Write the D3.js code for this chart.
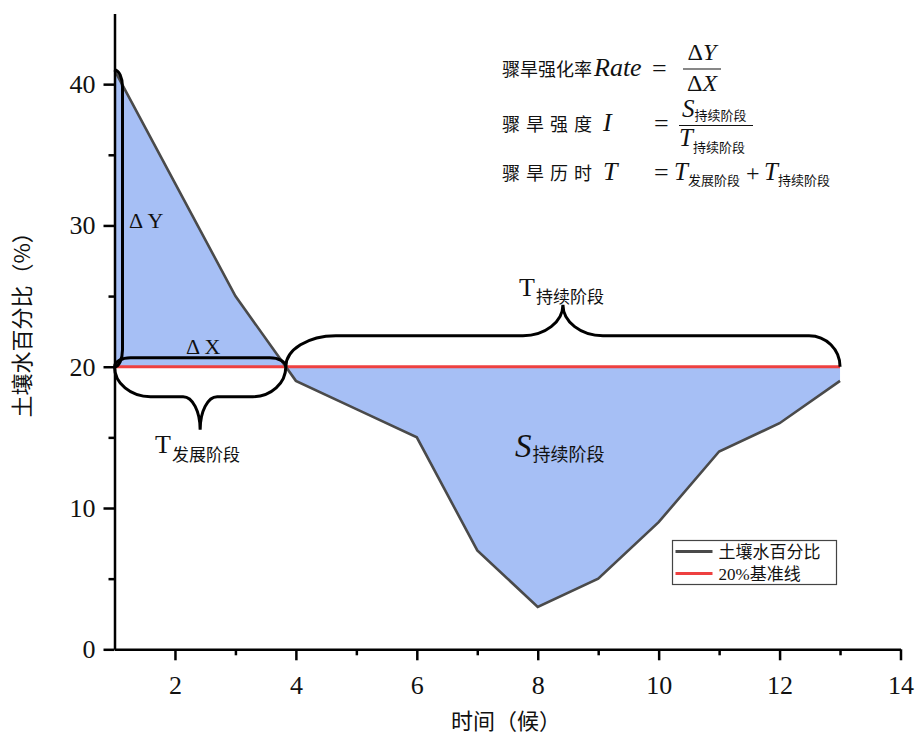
<!DOCTYPE html>
<html>
<head>
<meta charset="utf-8">
<script src="https://cdn.jsdelivr.net/npm/d3@7"></script>
<style>
  html, body { margin: 0; padding: 0; background: #fff; }
  svg text { font-family: "Liberation Serif", "Noto Sans CJK SC", serif; fill: #111; }
  .cjk { font-family: "Noto Sans CJK SC", sans-serif; }
</style>
</head>
<body>
<svg id="chart" width="917" height="737"></svg>
<script>
// 时间（候）与土壤水百分比
const pentads = [1, 2, 3, 4, 5, 6, 7, 8, 9, 10, 11, 12, 13];
const soilMoisture = [41, 33, 25, 19, 17, 15, 7, 3, 5, 9, 14, 16, 19];
const threshold = 20;
const xMajorTicks = [2, 4, 6, 8, 10, 12, 14];
const xMinorTicks = [3, 5, 7, 9, 11, 13];
const yMajorTicks = [0, 10, 20, 30, 40];
const yMinorTicks = [5, 15, 25, 35];
const legendLabels = ["土壤水百分比", "20%基准线"];

const lineColor = "#4a4a4a";
const refColor = "#ee4040";
const fillColor = "#a6bff5";

const svg = d3.select("#chart");
const x = d3.scaleLinear().domain([1, 14]).range([114.5, 900.5]);
const y = d3.scaleLinear().domain([0, 45]).range([649.3, 13.5]);

const pts = pentads.map((p, i) => ({ p, v: soilMoisture[i] }));

// 发展阶段结束：土壤水首次降到基准线的时刻（线性插值）
let cross = pentads[0];
for (let i = 1; i < pts.length; i++) {
  const a = pts[i - 1], b = pts[i];
  if (a.v >= threshold && b.v < threshold) {
    cross = a.p + (a.v - threshold) / (a.v - b.v) * (b.p - a.p);
    break;
  }
}
const firstP = pentads[0], lastP = pentads[pentads.length - 1];
const peakV = soilMoisture[0];

// 填充：土壤水曲线与基准线之间
svg.append("path")
  .datum(pts)
  .attr("fill", fillColor)
  .attr("d", d3.area().x(d => x(d.p)).y0(y(threshold)).y1(d => y(d.v)));

// 基准线
svg.append("line")
  .attr("x1", x(firstP)).attr("x2", x(lastP))
  .attr("y1", y(threshold)).attr("y2", y(threshold))
  .attr("stroke", refColor).attr("stroke-width", 3);

// 土壤水曲线
svg.append("path")
  .datum(pts)
  .attr("fill", "none")
  .attr("stroke", lineColor)
  .attr("stroke-width", 2.6)
  .attr("stroke-linejoin", "miter")
  .attr("d", d3.line().x(d => x(d.p)).y(d => y(d.v)));

// 坐标轴
const axisG = svg.append("g");
function styleAxis(g) {
  g.select(".domain").attr("stroke", "#000").attr("stroke-width", 2.5);
  g.selectAll(".tick line").attr("stroke", "#000").attr("stroke-width", 2.5);
  g.selectAll(".tick text").attr("font-family", "Liberation Serif").attr("font-size", 26).attr("fill", "#111");
}
const gx = axisG.append("g").attr("transform", `translate(0,${y(0)})`)
  .call(d3.axisBottom(x).tickValues(xMajorTicks).tickSize(11).tickPadding(15).tickSizeOuter(0));
styleAxis(gx);
gx.selectAll(".tick text").attr("dy", "0.72em");
const gxm = axisG.append("g").attr("transform", `translate(0,${y(0)})`)
  .call(d3.axisBottom(x).tickValues(xMinorTicks).tickSize(6).tickFormat("").tickSizeOuter(0));
styleAxis(gxm);
gxm.select(".domain").remove();

const gy = axisG.append("g").attr("transform", `translate(${x(1)},0)`)
  .call(d3.axisLeft(y).tickValues(yMajorTicks).tickSize(11).tickPadding(8).tickSizeOuter(0));
styleAxis(gy);
const gym = axisG.append("g").attr("transform", `translate(${x(1)},0)`)
  .call(d3.axisLeft(y).tickValues(yMinorTicks).tickSize(6).tickFormat("").tickSizeOuter(0));
styleAxis(gym);
gym.select(".domain").remove();

// 轴标题
svg.append("text").attr("class", "cjk")
  .attr("transform", `translate(30,${(y(0) + y(45)) / 2 - 12}) rotate(-90)`)
  .attr("text-anchor", "middle").attr("font-size", 22).attr("fill", "#222")
  .text("土壤水百分比（%）");
svg.append("text").attr("class", "cjk")
  .attr("x", 506).attr("y", 729)
  .attr("text-anchor", "middle").attr("font-size", 22).attr("fill", "#222")
  .text("时间（候）");

// 花括号：两端为四分之一椭圆，中间尖端
const K = 0.552;
function hBrace(x1, x2, y0, dir, d, rL, rR, h, rt) {
  const yf = y0 + dir * d, yt = y0 + dir * (d + h), xm = (x1 + x2) / 2;
  const p = d3.path();
  p.moveTo(x1, y0);
  p.bezierCurveTo(x1, y0 + dir * d * K, x1 + rL * (1 - K), yf, x1 + rL, yf);
  p.lineTo(xm - rt, yf);
  p.bezierCurveTo(xm - rt + rt * K, yf, xm, yt - dir * h * K, xm, yt);
  p.bezierCurveTo(xm, yt - dir * h * K, xm + rt - rt * K, yf, xm + rt, yf);
  p.lineTo(x2 - rR, yf);
  p.bezierCurveTo(x2 - rR * (1 - K), yf, x2, y0 + dir * d * K, x2, y0);
  return p.toString();
}
// 方括号（圆角，无尖端）
function hBracket(x1, x2, y0, dir, d, r) {
  const yf = y0 + dir * d;
  const p = d3.path();
  p.moveTo(x1, y0);
  p.bezierCurveTo(x1, y0 + dir * d * K, x1 + r * (1 - K), yf, x1 + r, yf);
  p.lineTo(x2 - r, yf);
  p.bezierCurveTo(x2 - r * (1 - K), yf, x2, y0 + dir * d * K, x2, y0);
  return p.toString();
}
function vBracket(x0, y1, y2, w, r) {
  const p = d3.path();
  p.moveTo(x0, y1);
  p.bezierCurveTo(x0 + w * K, y1, x0 + w, y1 + r * (1 - K), x0 + w, y1 + r);
  p.lineTo(x0 + w, y2 - r);
  p.bezierCurveTo(x0 + w, y2 - r * (1 - K), x0 + w * K, y2, x0, y2);
  return p.toString();
}

const braceG = svg.append("g").attr("fill", "none").attr("stroke", "#000").attr("stroke-width", 3);
// ΔY
braceG.append("path").attr("d", vBracket(x(firstP), y(peakV), y(threshold), 8, 17));
// ΔX
braceG.append("path").attr("d", hBracket(x(firstP), x(cross), y(threshold), -1, 9, 16));
// T 发展阶段
braceG.append("path").attr("d", hBrace(x(firstP), x(cross), y(threshold), 1, 30, 36, 33, 33, 17));
// T 持续阶段
braceG.append("path").attr("d", hBrace(x(cross), x(lastP), y(threshold), -1, 31, 50, 31, 31, 40));

// 注记文字
function subLabel(xp, yp, main, sub, mainSize, subSize, italic, subDy) {
  const t = svg.append("text").attr("x", xp).attr("y", yp);
  t.append("tspan").attr("font-family", "Liberation Serif").attr("font-size", mainSize)
    .attr("font-style", italic ? "italic" : "normal").text(main);
  t.append("tspan").attr("font-family", "Noto Sans CJK SC").attr("font-size", subSize)
    .attr("dx", 1).attr("dy", subDy).text(sub);
  return t;
}
svg.append("text").attr("x", 129).attr("y", 228).attr("font-size", 22).text("Δ Y");
svg.append("text").attr("x", 186).attr("y", 354).attr("font-size", 22).text("Δ X");
subLabel(155, 453, "T", "发展阶段", 26, 17, false, 8);
subLabel(519, 296, "T", "持续阶段", 26, 17, false, 7);
subLabel(515, 457, "S", "持续阶段", 33, 18, true, 4);

// 公式
const fG = svg.append("g");
function mathText(xp, yp, s, size, anchor) {
  return fG.append("text").attr("x", xp).attr("y", yp)
    .attr("font-family", "Liberation Serif").attr("font-size", size)
    .attr("font-style", "italic").attr("text-anchor", anchor || "start").text(s);
}
function cjkText(xp, yp, s, spacing) {
  return fG.append("text").attr("class", "cjk").attr("x", xp).attr("y", yp)
    .attr("font-size", 18).attr("letter-spacing", spacing || 0).attr("fill", "#111").text(s);
}
function eq(xp, yp) {
  return fG.append("text").attr("x", xp).attr("y", yp).attr("font-size", 26).text("=");
}
function frac(x1, x2, yb) {
  fG.append("line").attr("x1", x1).attr("x2", x2).attr("y1", yb).attr("y2", yb)
    .attr("stroke", "#111").attr("stroke-width", 1.2);
}
function deltaVar(xc, yp, v) {
  const t = fG.append("text").attr("x", xc).attr("y", yp).attr("text-anchor", "middle").attr("font-size", 24);
  t.append("tspan").text("Δ");
  t.append("tspan").attr("font-style", "italic").text(v);
}
function subVar(xp, yp, v, sub, subDy) {
  const t = fG.append("text").attr("x", xp).attr("y", yp);
  t.append("tspan").attr("font-family", "Liberation Serif").attr("font-style", "italic").attr("font-size", 25).text(v);
  t.append("tspan").attr("font-family", "Noto Sans CJK SC").attr("font-size", 13).attr("dy", subDy).text(sub);
  return t;
}
// 第一行：骤旱强化率
cjkText(502, 76, "骤旱强化率");
mathText(594, 76, "Rate", 26);
eq(652, 77);
deltaVar(702, 60, "Y");
frac(683, 721, 69);
deltaVar(702, 91, "X");
// 第二行：骤旱强度
cjkText(502, 131, "骤旱强度", 6);
mathText(603, 131, "I", 26);
eq(654, 132);
subVar(682, 117, "S", "持续阶段", 3);
frac(679, 753, 125.5);
subVar(679, 146, "T", "持续阶段", 6);
// 第三行：骤旱历时
cjkText(502, 180, "骤旱历时", 6);
mathText(603, 180, "T", 26);
eq(654, 181);
subVar(674, 180, "T", "发展阶段", 5);
fG.append("text").attr("x", 746).attr("y", 181).attr("font-size", 24).text("+");
subVar(764, 180, "T", "持续阶段", 5);

// 图例
const lg = svg.append("g").attr("transform", "translate(672.5,540.5)");
lg.append("rect").attr("width", 164).attr("height", 44)
  .attr("fill", "#fff").attr("stroke", "#444").attr("stroke-width", 1.2);
[lineColor, refColor].forEach((c, i) => {
  lg.append("line").attr("x1", 3).attr("x2", 40).attr("y1", 11 + i * 22).attr("y2", 11 + i * 22)
    .attr("stroke", c).attr("stroke-width", 3);
  lg.append("text").attr("x", 46).attr("y", 17 + i * 22).attr("font-size", 17)
    .attr("font-family", "Liberation Serif, Noto Sans CJK SC").attr("fill", "#222")
    .text(legendLabels[i]);
});
</script>
</body>
</html>
